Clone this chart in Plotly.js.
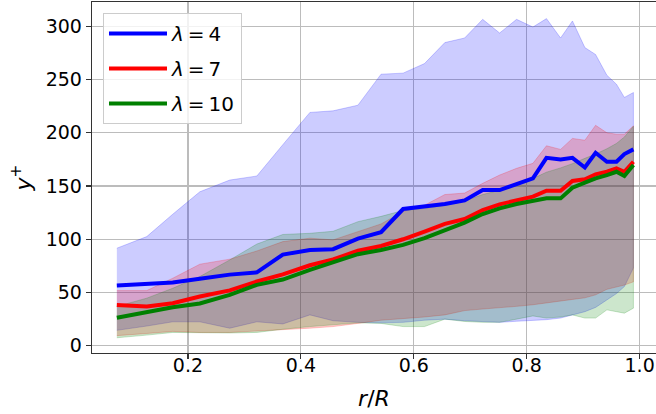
<!DOCTYPE html>
<html>
<head>
<meta charset="utf-8">
<script src="https://cdn.plot.ly/plotly-3.0.1.min.js"></script>
<style>
  html, body { margin: 0; padding: 0; background: #fff; }
  #chart { width: 656px; height: 414px; }
</style>
</head>
<body>
<div id="chart"></div>
<script>
// Radial positions r/R of the sampling bins
const rR = [0.074, 0.127, 0.173, 0.221, 0.274, 0.322, 0.368, 0.416, 0.457, 0.501,
            0.542, 0.581, 0.619, 0.655, 0.690, 0.722, 0.752, 0.782, 0.811, 0.835,
            0.860, 0.881, 0.903, 0.922, 0.942, 0.959, 0.973, 0.989];

// Mean y+ for each lambda
const meanL4  = [56.5, 58.4, 59.5, 63.0, 66.8, 68.9, 85.6, 90.0, 90.7, 100.6,
                 106.6, 128.4, 130.6, 133.1, 136.5, 146.2, 146.2, 151.8, 157.2, 176.5,
                 175.0, 176.5, 167.4, 181.2, 172.8, 172.8, 180.0, 184.4];
const meanL7  = [38.2, 36.9, 40.0, 46.2, 52.0, 60.3, 67.0, 75.6, 81.0, 89.2,
                 93.7, 100.0, 107.2, 114.4, 119.0, 127.5, 132.8, 136.9, 140.0, 145.6,
                 145.6, 154.7, 156.3, 161.0, 163.4, 166.6, 163.4, 172.8];
const meanL10 = [26.3, 31.6, 36.1, 39.7, 47.8, 57.2, 62.2, 71.2, 78.2, 86.0,
                 90.0, 94.7, 101.0, 108.7, 115.7, 123.7, 129.0, 133.1, 136.2, 138.4,
                 138.4, 148.4, 153.1, 157.2, 160.3, 163.4, 159.4, 169.7];

// Upper and lower envelopes
const upL4  = [91.6, 102.5, 123.5, 144.6, 155.6, 159.4, 188.8, 219.1, 220.6, 225.9,
               255.0, 256.0, 265.0, 284.7, 289.0, 306.5, 293.7, 306.5, 299.3, 307.2,
               289.0, 305.0, 280.0, 273.5, 254.0, 245.6, 233.2, 237.8];
const loL4  = [14.5, 18.5, 22.5, 22.5, 16.5, 22.5, 20.5, 29.0, 23.5, 22.0,
               21.5, 22.0, 24.0, 25.0, 23.5, 22.5, 22.0, 23.0, 24.0, 24.5,
               26.0, 29.0, 32.0, 36.0, 43.0, 49.0, 55.6, 73.0];
const upL7  = [51.8, 51.8, 63.4, 76.6, 81.3, 89.0, 97.8, 101.0, 99.4, 107.2,
               114.4, 126.0, 132.0, 142.0, 143.4, 152.5, 160.3, 166.6, 171.3, 187.8,
               184.4, 194.7, 193.0, 207.0, 200.0, 198.7, 198.7, 206.5];
const loL7  = [9.5, 11.5, 13.5, 12.5, 12.5, 13.5, 15.0, 16.5, 18.0, 21.0,
               24.0, 25.5, 27.0, 29.0, 33.0, 34.5, 36.0, 37.0, 38.5, 40.0,
               42.0, 43.5, 45.0, 47.8, 53.0, 55.0, 57.0, 60.0];
const upL10 = [36.9, 44.7, 54.0, 65.0, 80.6, 95.5, 104.5, 105.6, 107.5, 116.5,
               121.5, 127.0, 129.0, 132.0, 136.0, 142.0, 146.0, 151.0, 157.0, 163.0,
               167.0, 171.0, 176.0, 180.0, 185.0, 190.0, 196.0, 206.0];
const loL10 = [7.5, 10.0, 12.5, 12.0, 12.0, 12.5, 15.5, 18.0, 20.0, 21.5,
               21.0, 18.0, 18.0, 25.0, 22.8, 22.0, 22.0, 25.0, 28.0, 26.0,
               27.0, 29.0, 26.0, 26.0, 33.7, 32.0, 30.6, 35.3];

const labels = ['<i>λ</i>\u2009=\u20094', '<i>λ</i>\u2009=\u20097', '<i>λ</i>\u2009=\u200910'];

const series = [
  { mean: meanL4,  up: upL4,  lo: loL4,  rgb: '0,0,255' },
  { mean: meanL7,  up: upL7,  lo: loL7,  rgb: '255,0,0' },
  { mean: meanL10, up: upL10, lo: loL10, rgb: '0,128,0' }
];

const traces = [];

// Shaded envelopes (closed polygons: upper edge forward, lower edge back)
series.forEach(s => {
  const xs = rR.concat(rR.slice().reverse());
  const ys = s.up.concat(s.lo.slice().reverse());
  traces.push({
    x: xs, y: ys, type: 'scatter', mode: 'lines',
    fill: 'toself',
    fillcolor: 'rgba(' + s.rgb + ',0.2)',
    line: { color: 'rgba(' + s.rgb + ',0.2)', width: 1 },
    showlegend: false, hoverinfo: 'skip'
  });
});

// Mean curves
series.forEach((s, i) => {
  traces.push({
    x: rR, y: s.mean, type: 'scatter', mode: 'lines',
    name: labels[i],
    legendgroup: 'g' + i,
    line: { color: 'rgb(' + s.rgb + ')', width: 4 }
  });
});

const axisCommon = {
  showline: true, linecolor: '#333', linewidth: 1.3,
  ticks: 'outside', ticklen: 5, tickwidth: 1.2, tickcolor: '#333',
  showgrid: true, gridcolor: '#bcbcbc', gridwidth: 1.2,
  zeroline: false,
  tickfont: { family: 'DejaVu Sans', size: 19, color: '#000' }
};

const layout = {
  width: 656, height: 414,
  margin: { l: 92, r: 0, t: 2, b: 61 },
  paper_bgcolor: '#fff', plot_bgcolor: '#fff',
  font: { family: 'DejaVu Sans', color: '#000' },
  xaxis: Object.assign({}, axisCommon, {
    range: [0.030, 1.029],
    tick0: 0, dtick: 0.2, tickformat: '.1f',
    mirror: true,
    ticklabelstandoff: -10,
    title: { text: '<i>r</i>/<i>R</i>', font: { family: 'DejaVu Sans', size: 22 }, standoff: 15 }
  }),
  yaxis: Object.assign({}, axisCommon, {
    range: [-6.8, 322.8],
    tick0: 0, dtick: 50,
    title: { text: '<i>y</i><sup>+</sup>', font: { family: 'DejaVu Sans', size: 22 }, standoff: 8 }
  }),
  legend: {
    x: 0.0195, y: 0.969, xanchor: 'left', yanchor: 'top',
    bgcolor: 'rgba(255,255,255,0.8)', bordercolor: '#cccccc', borderwidth: 1,
    font: { family: 'DejaVu Sans', size: 20 },
    itemwidth: 58,
    traceorder: 'grouped', tracegroupgap: 6
  },
  showlegend: true
};

Plotly.newPlot('chart', traces, layout, { staticPlot: true, displayModeBar: false });
</script>
</body>
</html>
